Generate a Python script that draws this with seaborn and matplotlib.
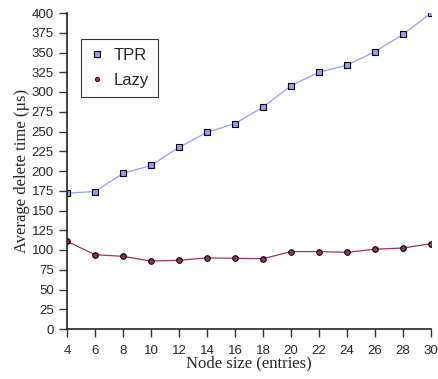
import matplotlib
matplotlib.use("Agg")
import matplotlib.pyplot as plt
import seaborn as sns
import pandas as pd
from matplotlib.lines import Line2D

node_sizes = [4, 6, 8, 10, 12, 14, 16, 18, 20, 22, 24, 26, 28, 30]
tpr_times = [172, 174, 197, 207, 230, 249, 260, 281, 308, 325, 334, 351, 373, 400]
lazy_times = [111, 94, 92, 86, 87, 90, 89.5, 89, 98, 98, 97, 101, 102.5, 108]
series_names = ["TPR", "Lazy"]

df = pd.concat([
    pd.DataFrame({"size": node_sizes, "time": tpr_times, "method": series_names[0]}),
    pd.DataFrame({"size": node_sizes, "time": lazy_times, "method": series_names[1]}),
])

sns.set_style("ticks")
plt.rcParams["font.family"] = ["Liberation Sans", "DejaVu Sans"]

fig = plt.figure(figsize=(4.38, 3.79), dpi=100)
ax = fig.add_axes([67 / 438, 50 / 379, 364 / 438, 316 / 379])

palette = {"TPR": "#9999ff", "Lazy": "#993366"}
sns.lineplot(data=df, x="size", y="time", hue="method", style="method",
             markers={"TPR": "s", "Lazy": "o"}, dashes=False,
             palette=palette, linewidth=0.9, ax=ax, legend=False,
             markeredgecolor="black", markeredgewidth=0.8)
# marker sizes differ per series
for line, ms in zip(ax.lines, [5, 4]):
    line.set_markersize(ms)

ax.set_xlim(4, 30)
ax.set_ylim(0, 400)
ax.set_xticks(node_sizes)
ax.set_yticks(range(0, 401, 25))
ax.tick_params(labelsize=9.5, length=5.5, width=1, color="#333333")
ax.tick_params(axis="y", pad=4)
ax.tick_params(axis="x", pad=6)
for s in ["top", "right"]:
    ax.spines[s].set_visible(False)
for s in ["left", "bottom"]:
    ax.spines[s].set_linewidth(1.2)
    ax.spines[s].set_color("#222222")

serif = ["Liberation Serif", "DejaVu Serif"]
ax.set_xlabel("Node size (entries)", family=serif, fontsize=12, labelpad=-1)
ax.set_ylabel("Average delete time (\u00b5s)", family=serif, fontsize=12, labelpad=1)

handles = [
    Line2D([], [], marker="s", linestyle="none", markerfacecolor=palette["TPR"],
           markeredgecolor="black", markersize=4.5, markeredgewidth=0.8),
    Line2D([], [], marker="o", linestyle="none", markerfacecolor=palette["Lazy"],
           markeredgecolor="black", markersize=3, markeredgewidth=0.6),
]
leg = ax.legend(handles, series_names, loc="upper left", bbox_to_anchor=(14 / 364, 1 - 26 / 316),
                borderaxespad=0, fontsize=12, frameon=True, fancybox=False, edgecolor="black",
                handlelength=0.8, handletextpad=0.6, borderpad=0.55, labelspacing=0.6)
leg.get_frame().set_linewidth(0.8)

fig.savefig("out.png", dpi=100)
